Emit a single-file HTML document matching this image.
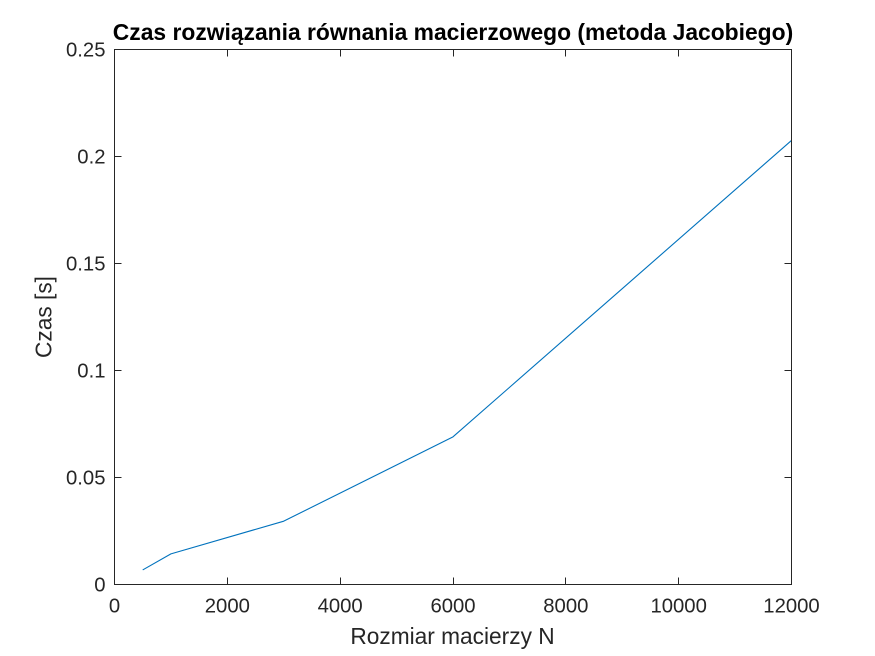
<!DOCTYPE html>
<html>
<head>
<meta charset="utf-8">
<style>
html,body{margin:0;padding:0;background:#fff;}
svg{display:block;font-family:"Liberation Sans",Arial,sans-serif;}
</style>
</head>
<body>
<svg id="chart" width="875" height="656" viewBox="0 0 875 656" xmlns="http://www.w3.org/2000/svg">
<rect width="875" height="656" fill="#fff"></rect>
<text id="title" x="453" y="40" text-anchor="middle" font-size="22.85" font-weight="bold" fill="#000">Czas rozwiązania równania macierzowego (metoda Jacobiego)</text>
<text x="452.5" y="644" text-anchor="middle" font-size="22.7" fill="#262626">Rozmiar macierzy N</text>
<text transform="translate(51.5,317) rotate(-90)" text-anchor="middle" font-size="22.7" fill="#262626">Czas [s]</text>
<g id="ticks"></g>
<polyline id="series" fill="none" stroke="#0072bd" stroke-width="1.1" stroke-linejoin="round"></polyline>
<rect x="114.5" y="49.5" width="677" height="535" fill="none" stroke="#262626" stroke-width="1"></rect>
</svg>
<script>
var matrixSizes = [500, 1000, 3000, 6000, 12000];
var solveTimes = [0.0068, 0.0143, 0.0296, 0.0690, 0.2075];
var xTickValues = [0, 2000, 4000, 6000, 8000, 10000, 12000];
var xTickLabels = ['0', '2000', '4000', '6000', '8000', '10000', '12000'];
var yTickValues = [0, 0.05, 0.1, 0.15, 0.2, 0.25];
var yTickLabels = ['0', '0.05', '0.1', '0.15', '0.2', '0.25'];
var xMax = 12000;
var yMax = 0.25;

function xScale(v) { return 114.5 + v / xMax * 677; }
function yScale(v) { return 584.5 - v / yMax * 535; }

var svgNS = 'http://www.w3.org/2000/svg';
var tickGroup = document.getElementById('ticks');

function addLine(x1, y1, x2, y2) {
  var l = document.createElementNS(svgNS, 'line');
  l.setAttribute('x1', x1);
  l.setAttribute('y1', y1);
  l.setAttribute('x2', x2);
  l.setAttribute('y2', y2);
  l.setAttribute('stroke', '#262626');
  l.setAttribute('stroke-width', '1');
  
  
  tickGroup.appendChild(l);
}

function addLabel(x, y, anchor, str, name) {
  var t = document.createElementNS(svgNS, 'text');
  t.setAttribute('x', x);
  t.setAttribute('y', y);
  t.setAttribute('text-anchor', anchor);
  t.setAttribute('font-size', '20.3');
  t.setAttribute('fill', '#262626');
  t.textContent = str;
  
  
  tickGroup.appendChild(t);
}

xTickValues.forEach(function (v, i) {
  var x = Math.floor(xScale(v)) + 0.5;
  addLine(x, 584.5, x, 577.5);
  addLine(x, 49.5, x, 56.5);
  addLabel(xScale(v), 612.5, 'middle', xTickLabels[i], 'x-tick-label');
});

yTickValues.forEach(function (v, i) {
  var y = Math.floor(yScale(v)) + 0.5;
  addLine(114.5, y, 121.5, y);
  addLine(791.5, y, 784.5, y);
  addLabel(105.5, yScale(v) + 7, 'end', yTickLabels[i], 'y-tick-label');
});

var pts = matrixSizes.map(function (n, i) {
  return xScale(n).toFixed(2) + ',' + yScale(solveTimes[i]).toFixed(2);
});
document.getElementById('series').setAttribute('points', pts.join(' '));
</script>
</body>
</html>
